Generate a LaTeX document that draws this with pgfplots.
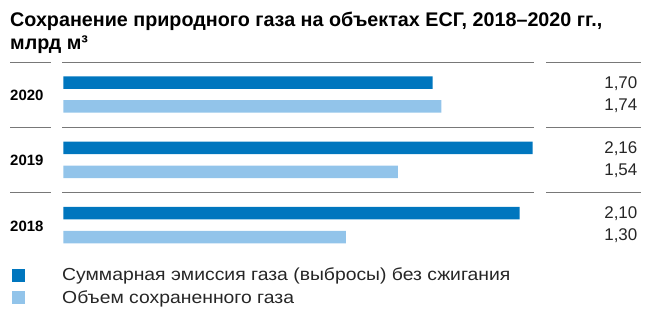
\documentclass[border=0pt]{standalone}
\usepackage{pgfplots}
\pgfplotsset{compat=1.18}
\usepackage{fontspec}
\setmainfont{Liberation Sans}
\definecolor{dblue}{RGB}{0,118,190}
\definecolor{lblue}{RGB}{146,196,234}
\definecolor{sepgray}{RGB}{120,120,120}
\begin{document}
\begin{tikzpicture}[x=1bp,y=1bp]
\path[use as bounding box] (0,0) rectangle (645,311);
% title
\node[anchor=base west, inner sep=0, font=\bfseries\fontsize{19.8}{22}\selectfont] at (10,311-26.7) {Сохранение природного газа на объектах ЕСГ, 2018–2020 гг.,};
\node[anchor=base west, inner sep=0, font=\bfseries\fontsize{19.8}{22}\selectfont] at (10,311-49.3) {млрд м³};
% separators
\foreach \yy in {62,127.3,192.6}{
  \draw[sepgray, line width=1bp] (10,311-\yy) -- (50.7,311-\yy);
  \draw[sepgray, line width=1bp] (62,311-\yy) -- (534,311-\yy);
  \draw[sepgray, line width=1bp] (546,311-\yy) -- (641,311-\yy);
}
% year labels
\node[anchor=west, inner sep=0, font=\bfseries\fontsize{15}{18}\selectfont] at (10,311-95.5) {2020};
\node[anchor=west, inner sep=0, font=\bfseries\fontsize{15}{18}\selectfont] at (10,311-160.8) {2019};
\node[anchor=west, inner sep=0, font=\bfseries\fontsize{15}{18}\selectfont] at (10,311-226) {2018};
% values
\foreach \v/\yy in {1{,}70/83.5, 1{,}74/105.5, 2{,}16/148.8, 1{,}54/170.8, 2{,}10/214.1, 1{,}30/236.1}{
  \node[anchor=east, inner sep=0, font=\fontsize{17}{20}\selectfont, text=black!85] at (637.5,311-\yy) {\v};
}
\begin{axis}[
  at={(63.3bp,53.1bp)}, anchor=south west,
  scale only axis, width=469.4bp, height=195.9bp,
  xmin=0, xmax=2.16, ymin=0, ymax=3,
  hide axis, clip=false,
  xbar, bar width=12.5bp, bar shift=0pt,
  legend style={at={(0,0)}, anchor=north west, xshift=-51.3bp, yshift=-9bp,
    draw=none, fill=none, inner sep=0pt, row sep=6bp,
    font=\fontsize{17.5}{20}\selectfont\addfontfeature{FakeStretch=1.11}, text=black!85,
    nodes={inner xsep=0pt, inner ysep=1pt}},
  legend cell align=left,
  legend image code/.code={\fill[#1] (0bp,-6.5bp) rectangle (13bp,6.5bp); \path[draw=none,fill=none] (0bp,0bp) -- (50bp,0bp);},
]
\addplot[fill=dblue, draw=none] coordinates {(1.70,2.686) (2.16,1.686) (2.10,0.686)};
\addlegendentry{Суммарная эмиссия газа (выбросы) без сжигания}
\addplot[fill=lblue, draw=none] coordinates {(1.74,2.319) (1.54,1.319) (1.30,0.319)};
\addlegendentry{Объем сохраненного газа}
\end{axis}
\end{tikzpicture}
\end{document}
